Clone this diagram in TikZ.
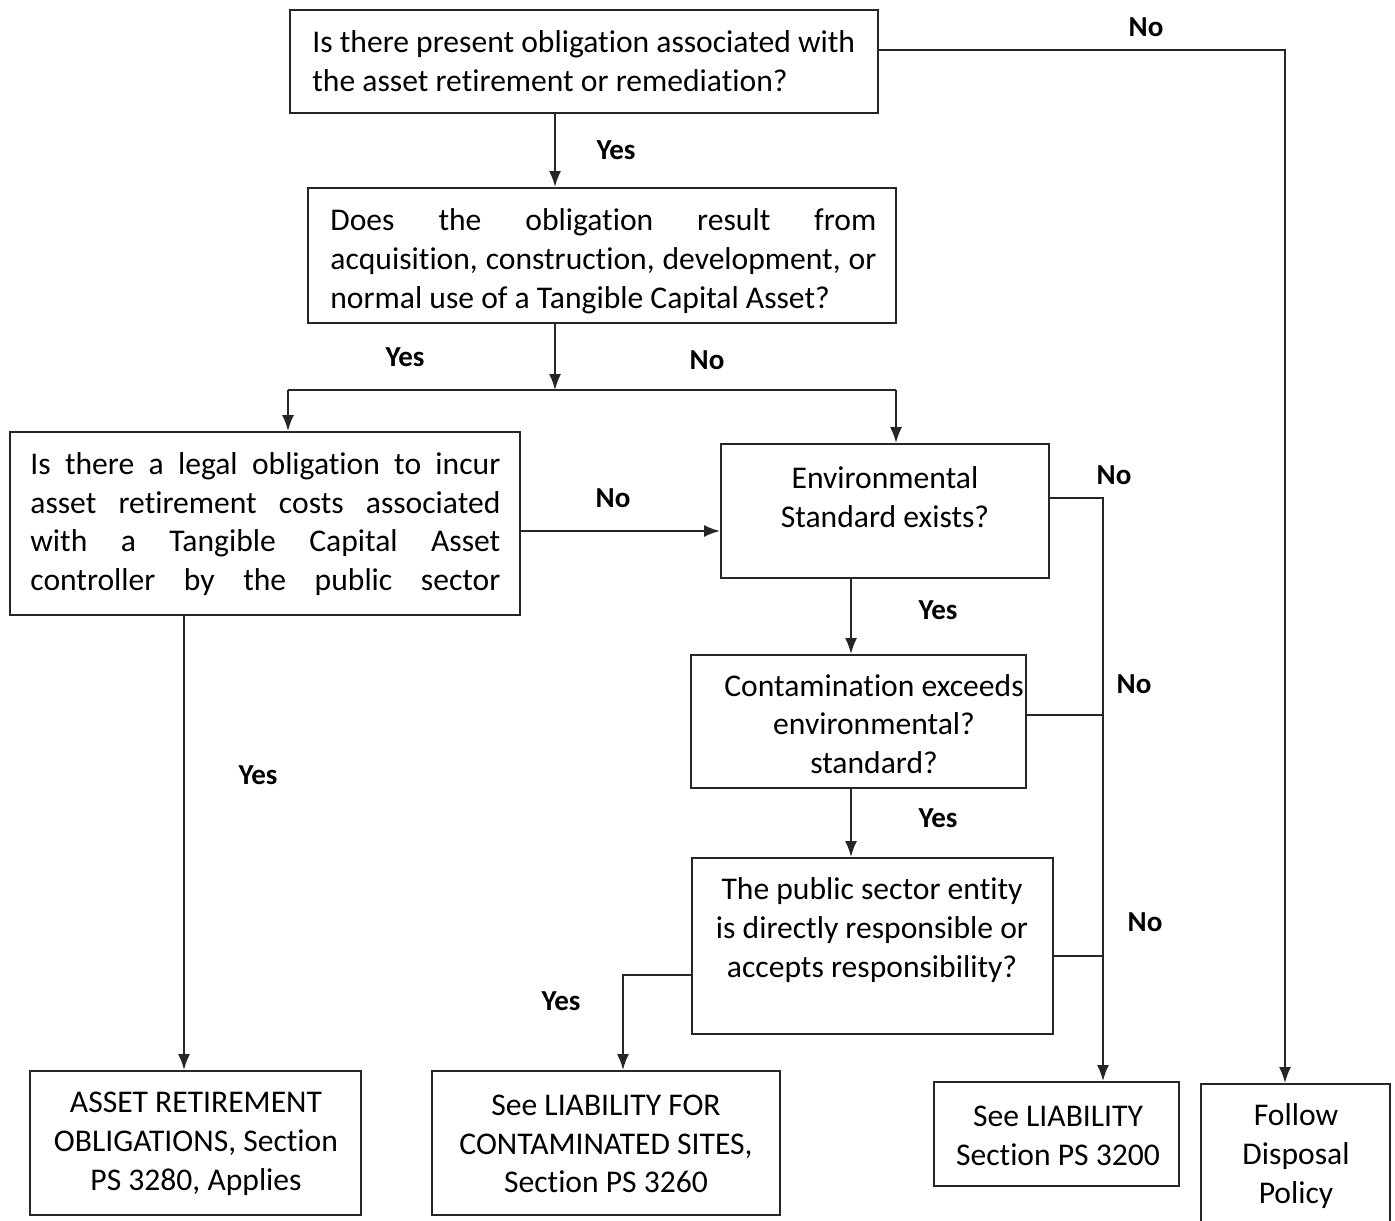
\documentclass[tikz,border=0pt]{standalone}
\usepackage{fontspec}
\setmainfont[Ligatures=NoCommon]{Carlito}
\usetikzlibrary{arrows.meta,positioning,fit,calc}
\tikzset{
  box/.style={rectangle, draw=black!85, line width=1pt, inner sep=0pt},
  boxtext/.style={align=center, inner sep=0pt, font=\fontsize{15.8}{19.4}\selectfont},
  lefttext/.style={boxtext, align=left, anchor=west},
  answer/.style={inner sep=0pt, font=\bfseries\fontsize{14.5}{17}\selectfont},
  arrow/.style={-{Latex[length=8pt,width=6pt]}, line width=0.9pt, draw=black!85},
  line/.style={line width=0.9pt, draw=black!85}
}
\begin{document}
\begin{tikzpicture}[x=0.5pt, y=-0.5pt]
\useasboundingbox (0,0) rectangle (1395,1220);
% question boxes
\node[box, fit={(290,10) (878,113)}] (present) {};
\node[box, fit={(308,188) (896,323)}] (result) {};
\node[box, fit={(10,432) (520,615)}] (legal) {};
\node[box, fit={(721,444) (1049,578)}] (envstd) {};
\node[box, fit={(691,655) (1026,788)}] (exceeds) {};
\node[box, fit={(692,858) (1053,1034)}] (entity) {};
% outcome boxes
\node[box, fit={(30,1071) (361,1215)}] (aro) {};
\node[box, fit={(432,1071) (780,1215)}] (contsites) {};
\node[box, fit={(934,1082) (1179,1186)}] (liability) {};
\node[box, fit={(1201,1084) (1390,1226)}] (disposal) {};
% texts
\node[lefttext] (presenttxt) at (312,61) {Is there present obligation associated with\\the asset retirement or remediation?};
\node[lefttext] (resulttxt) at (330,261) {\makebox[273pt][s]{Does the obligation result from}\\\makebox[273pt][s]{acquisition, construction, development, or}\\normal use of a Tangible Capital Asset?};
\node[lefttext] (legaltxt) at (30,524) {\makebox[235pt][s]{Is there a legal obligation to incur}\\\makebox[235pt][s]{asset retirement costs associated}\\\makebox[235pt][s]{with a Tangible Capital Asset}\\\makebox[235pt][s]{controller by the public sector}};
\node[boxtext] (envstdtxt) at (885,497) {Environmental\\Standard exists?};
\node[boxtext] (exceedstxt) at (874,724) {Contamination exceeds\\environmental?\\standard?};
\node[boxtext] (entitytxt) at (872,930) {The public sector entity\\is directly responsible or\\accepts responsibility?};
\node[boxtext] (arotxt) at (196,1144) {ASSET RETIREMENT\\OBLIGATIONS, Section\\PS 3280, Applies};
\node[boxtext] (contsitestxt) at (606,1144) {See LIABILITY FOR\\CONTAMINATED SITES,\\Section PS 3260};
\node[boxtext] (liabilitytxt) at (1058,1136) {See LIABILITY\\Section PS 3200};
\node[boxtext] (disposaltxt) at (1296,1156) {Follow\\Disposal\\Policy};
% bends
\coordinate (split) at (555,390);
\coordinate (splitl) at (288,390);
\coordinate (splitr) at (896,390);
\coordinate (aroline) at (184,700);
\coordinate (nolegal) at (620,531);
\coordinate (yesenv) at (851,610);
\coordinate (nobus) at (1103,498);
\coordinate (noexc) at (1103,715);
\coordinate (noent) at (1103,956);
\coordinate (yesent) at (623,975);
\coordinate (noturn) at (1285,50);
% connectors
\draw[arrow] (present.south -| split) -- (result.north -| split);
\draw[arrow] (result.south -| split) -- (split);
\draw[line] (splitl) -- (splitr);
\draw[arrow] (splitl) -- (legal.north -| splitl);
\draw[arrow] (splitr) -- (envstd.north -| splitr);
\draw[arrow] (legal.east |- nolegal) -- (envstd.west |- nolegal);
\draw[arrow] (legal.south -| aroline) -- (aro.north -| aroline);
\draw[arrow] (envstd.south -| yesenv) -- (exceeds.north -| yesenv);
\draw[arrow] (exceeds.south -| yesenv) -- (entity.north -| yesenv);
\draw[arrow] (envstd.east |- nobus) -- (nobus) -- (liability.north -| nobus);
\draw[line] (exceeds.east |- noexc) -- (noexc);
\draw[line] (entity.east |- noent) -- (noent);
\draw[arrow] (entity.west |- yesent) -- (yesent) -- (contsites.north -| yesent);
\draw[arrow] (present.east |- noturn) -- (noturn) -- (disposal.north -| noturn);
% answers
\node[answer] (yes1) at (616,150) {Yes};
\node[answer] (no1) at (1146,27) {No};
\node[answer] (yes2) at (405,357) {Yes};
\node[answer] (no2) at (707,360) {No};
\node[answer] (no3) at (613,498) {No};
\node[answer] (yes3) at (258,775) {Yes};
\node[answer] (no4) at (1114,475) {No};
\node[answer] (yes4) at (938,610) {Yes};
\node[answer] (no5) at (1134,684) {No};
\node[answer] (yes5) at (938,818) {Yes};
\node[answer] (no6) at (1145,922) {No};
\node[answer] (yes6) at (561,1001) {Yes};
\end{tikzpicture}
\end{document}
